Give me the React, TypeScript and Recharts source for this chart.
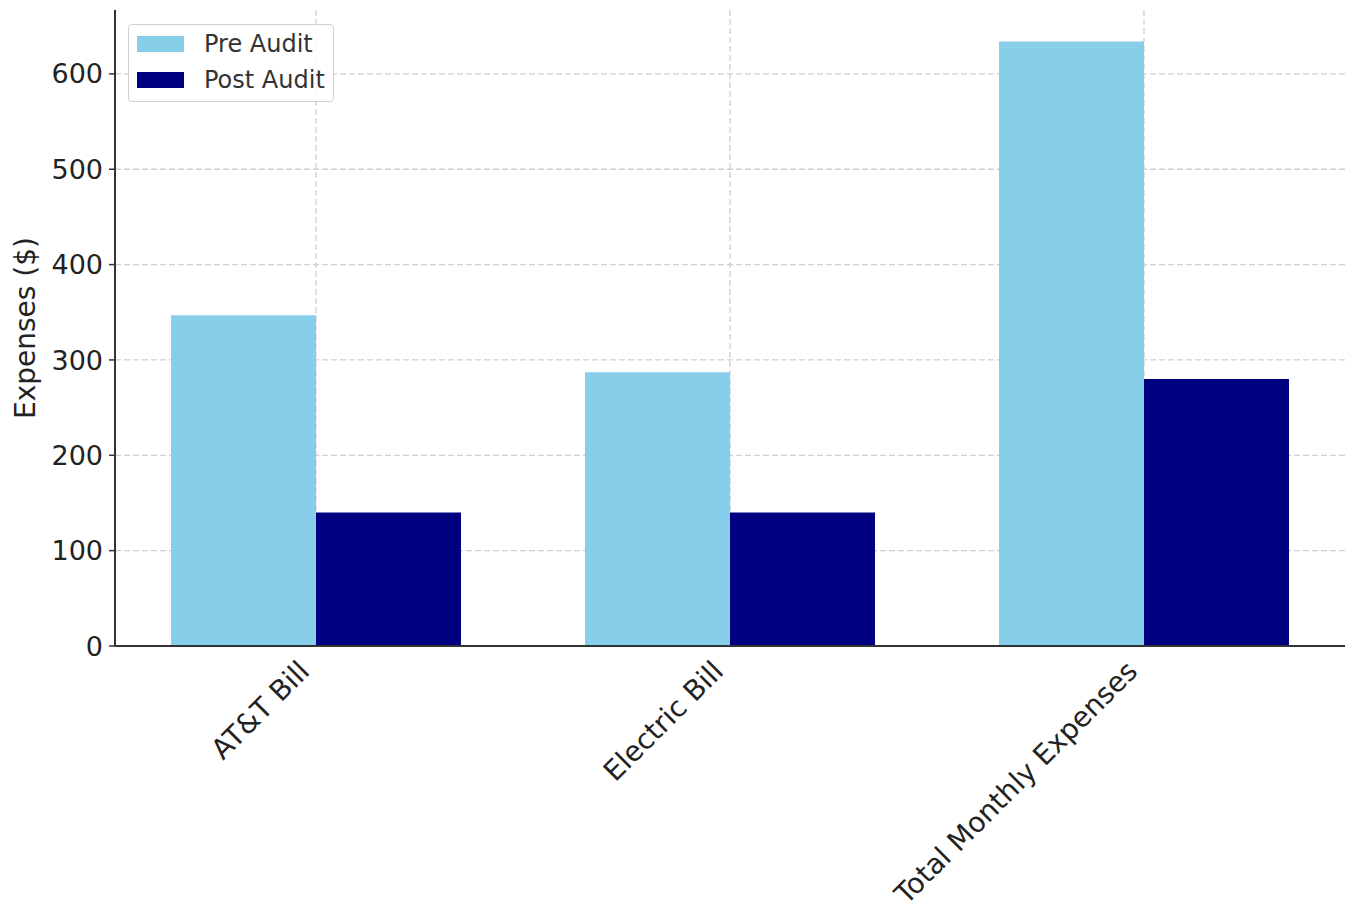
import React from "react";
import {
  BarChart,
  Bar,
  XAxis,
  YAxis,
  CartesianGrid,
} from "recharts";

const categories = ["AT&T Bill", "Electric Bill", "Total Monthly Expenses"];
const preAudit = [347, 287, 634];
const postAudit = [140, 140, 280];
const yTicks = [0, 100, 200, 300, 400, 500, 600];

const seriesNames = ["Pre Audit", "Post Audit"];
const seriesColors = ["#87CEEB", "#000080"];

const FONT = "DejaVu Sans, sans-serif";
const TEXT = "#222";

const data = categories.map((name, i) => ({
  name,
  pre: preAudit[i],
  post: postAudit[i],
}));

// rotated labels, right end of the baseline sits just left of the tick
const XTick = ({ x, y, payload }: any) => (
  <g transform={`translate(${x - 5},${y + 25})`}>
    <text
      x={0}
      y={0}
      textAnchor="end"
      transform="rotate(-45)"
      fontSize={28}
      fontFamily={FONT}
      fill={TEXT}
    >
      {payload.value}
    </text>
  </g>
);

function LegendBox() {
  return (
    <div
      style={{
        position: "absolute",
        left: 128,
        top: 24,
        width: 206,
        height: 78,
        border: "1.5px solid #d0d0d0",
        borderRadius: 4,
        background: "rgba(255,255,255,0.85)",
        fontFamily: FONT,
        fontSize: 24,
        color: "#333",
        boxSizing: "border-box",
      }}
    >
      {seriesNames.map((n, i) => (
        <div
          key={n}
          style={{
            position: "absolute",
            left: 8,
            top: 10 + i * 36,
            display: "flex",
            alignItems: "center",
            height: 18,
          }}
        >
          <span
            style={{
              display: "inline-block",
              width: 47,
              height: 16,
              background: seriesColors[i],
              marginRight: 20,
            }}
          />
          <span style={{ lineHeight: "18px" }}>{n}</span>
        </div>
      ))}
    </div>
  );
}

export default function App() {
  return (
    <div
      style={{
        position: "absolute",
        left: 0,
        top: 0,
        width: 1345,
        height: 904,
        background: "#fff",
        overflow: "hidden",
      }}
    >
      <BarChart
        width={1345}
        height={904}
        data={data}
        margin={{ top: 10, right: 0, bottom: 0, left: 0 }}
        barCategoryGap={62}
        barGap={0}
      >
        <CartesianGrid
          stroke="#cfcfcf"
          strokeDasharray="6 3"
          strokeWidth={1.3}
          syncWithTicks
        />
        <XAxis
          dataKey="name"
          height={258}
          interval={0}
          padding={{ left: -6, right: -6 }}
          tick={<XTick />}
          tickLine={false}
          tickSize={0}
          axisLine={{ stroke: "#333", strokeWidth: 2 }}
        />
        <YAxis
          width={115}
          domain={[0, 667]}
          ticks={yTicks}
          tickSize={6}
          tickMargin={6}
          tick={{ fontSize: 27, fontFamily: FONT, fill: TEXT }}
          tickLine={{ stroke: "#333", strokeWidth: 1.5 }}
          axisLine={{ stroke: "#333", strokeWidth: 2 }}
          label={{
            value: "Expenses ($)",
            angle: -90,
            position: "insideLeft",
            offset: 25,
            style: { fontSize: 28, fontFamily: FONT, fill: TEXT, textAnchor: "middle" },
          }}
        />
        <Bar dataKey="pre" fill={seriesColors[0]} isAnimationActive={false} />
        <Bar dataKey="post" fill={seriesColors[1]} isAnimationActive={false} />
      </BarChart>
      <LegendBox />
    </div>
  );
}
